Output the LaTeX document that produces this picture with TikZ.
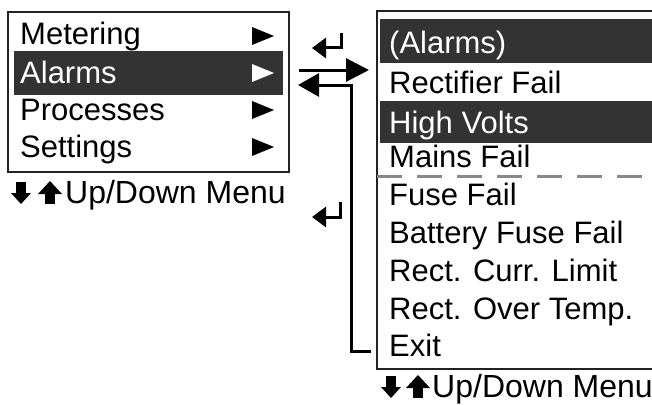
\documentclass[tikz,border=0pt]{standalone}
\usepackage{fontspec}
\setmainfont{Liberation Sans}
\usetikzlibrary{arrows.meta}
\definecolor{hl}{HTML}{333333}
\definecolor{framecol}{HTML}{222222}
\definecolor{dashcol}{HTML}{888888}
\tikzset{
  item/.style={anchor=base west, inner sep=0pt, font=\fontsize{31}{36}\selectfont},
  itemw/.style={item, text=white},
  foot/.style={anchor=base west, inner sep=0pt, font=\fontsize{32}{36}\selectfont},
  box/.style={draw=framecol, line width=2.5pt},
  conn/.style={line width=3pt, black},
  sepline/.style={draw=dashcol, line width=3pt, dash pattern=on 25pt off 15pt},
}
\begin{document}
\begin{tikzpicture}[x=1pt,y=-1pt]
\clip (0,0) rectangle (652,404);
\fill[white] (0,0) rectangle (652,404);
% left menu
\fill[hl] (14,51) rectangle (283,95);
\draw[box] (8,12) rectangle (289,172);
\node[item]  (m1) at (20,45) {Metering};
\node[itemw] (m2) at (20,83) {Alarms};
\node[item]  (m3) at (20,120) {Processes};
\node[item]  (m4) at (20,157) {Settings};
\fill[black] (252,27) -- (252,45) -- (274,36) -- cycle;
\fill[white] (252,64) -- (252,82) -- (274,73) -- cycle;
\fill[black] (252,101) -- (252,119) -- (274,110) -- cycle;
\fill[black] (252,138) -- (252,156) -- (274,147) -- cycle;
% left footer
\fill[black] (16,182) rectangle (26,193);
\fill[black] (11,193) -- (31,193) -- (21,204) -- cycle;
\fill[black] (38,194) -- (62,194) -- (50,181) -- cycle;
\fill[black] (45,194) rectangle (55,204);
\node[foot] (f1) at (65,203) {Up/Down Menu};
% right menu
\fill[hl] (380,19) rectangle (660,63);
\fill[hl] (380,101) rectangle (660,143);
\draw[box] (377,11) rectangle (670,369);
\draw[sepline] (377,176) -- (660,176);
\node[itemw] (a0) at (389,53) {(Alarms)};
\node[item]  (a1) at (389,93) {Rectifier Fail};
\node[itemw] (a2) at (389,133) {High Volts};
\node[item]  (a3) at (389,167) {Mains Fail};
\node[item]  (a4) at (389,205) {Fuse Fail};
\node[item]  (a5) at (389,243) {Battery Fuse Fail};
\node[item]  (a6) at (389,281) {Rect. Curr. Limit};
\node[item]  (a7) at (389,319) {Rect. Over Temp.};
\node[item]  (a8) at (389,356) {Exit};
% right footer
\fill[black] (386,376) rectangle (396,387);
\fill[black] (381,387) -- (401,387) -- (391,398) -- cycle;
\fill[black] (406,388) -- (430,388) -- (418,375) -- cycle;
\fill[black] (413,388) rectangle (423,398);
\node[foot] (f2) at (432,397) {Up/Down Menu};
% connectors
\coordinate (r1a) at (341,33);
\coordinate (r1b) at (312,48);
\draw[conn, -{Triangle[length=14pt,width=20pt]}] (r1a) |- (r1b);
\coordinate (fwA) at (299,70);
\coordinate (fwB) at (369,70);
\draw[conn, -{Triangle[length=23pt,width=23pt]}] (fwA) -- (fwB);
\coordinate (exitp) at (371,351);
\coordinate (bk) at (298,85);
\draw[conn, -{Triangle[length=21pt,width=23pt]}] (exitp) -- (351,351) -- (351,85) -- (bk);
\coordinate (r2a) at (340,202);
\coordinate (r2b) at (312,217);
\draw[conn, -{Triangle[length=14pt,width=20pt]}] (r2a) |- (r2b);
\end{tikzpicture}
\end{document}
